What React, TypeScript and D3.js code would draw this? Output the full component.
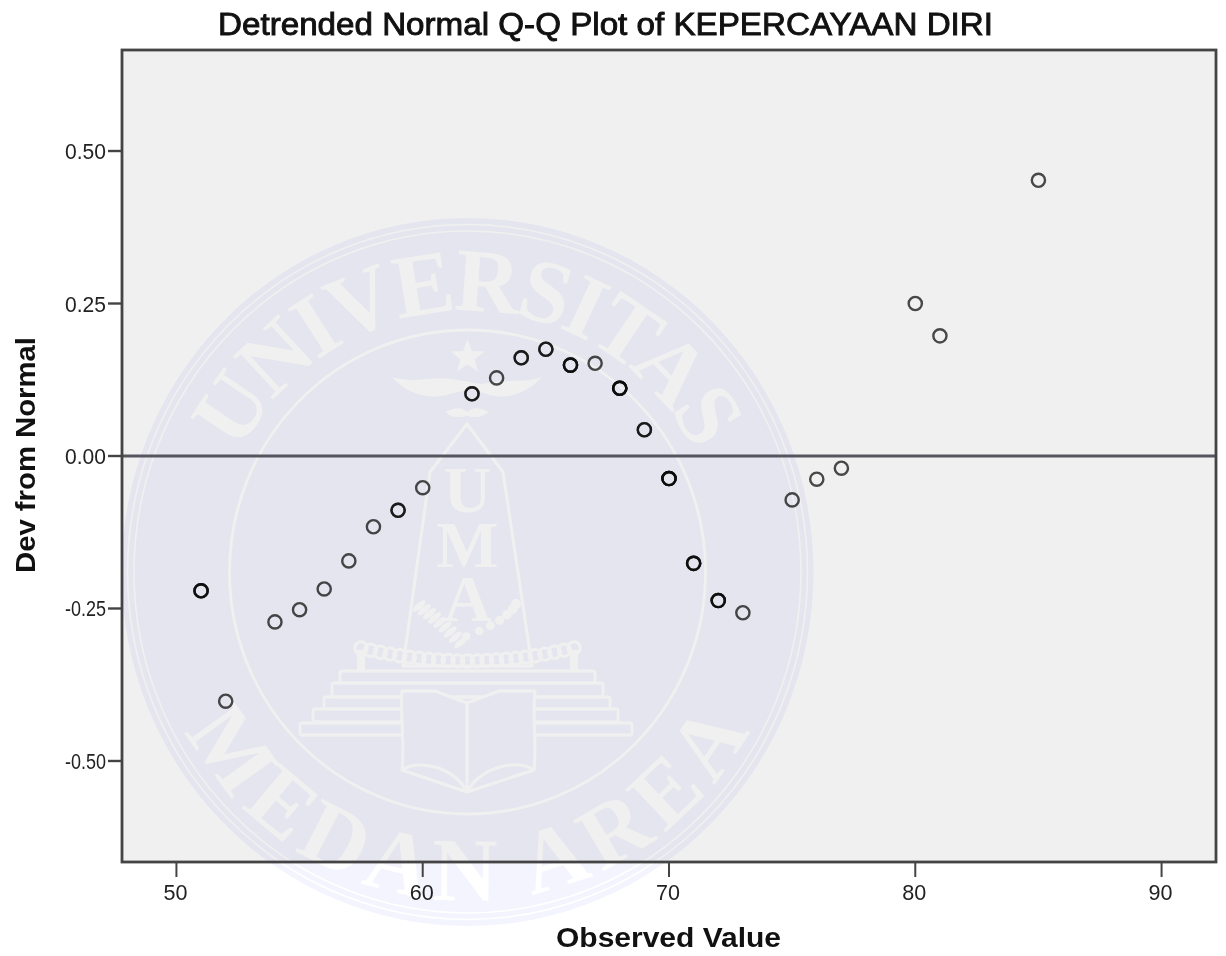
import React from "react";
import * as d3 from "d3";

const observed = [51,52,54,55,56,57,58,59,60,62,63,64,65,66,67,68,69,70,71,72,73,75,76,77,80,81,85];
const deviation = [-0.221,-0.402,-0.272,-0.252,-0.218,-0.172,-0.116,-0.089,-0.052,0.102,0.128,0.161,0.175,0.149,0.152,0.111,0.043,-0.037,-0.176,-0.237,-0.257,-0.072,-0.038,-0.02,0.25,0.197,0.452];
const frequency = [3,1,1,1,1,1,1,2,1,2,1,2,2,3,1,4,2,4,3,3,1,1,1,1,1,1,1];
const xTicks = [50,60,70,80,90];
const yTicks = [0.5,0.25,0,-0.25,-0.5];
const beadIndex = d3.range(23);

const W = 1226, H = 956;
const L = 122, R = 1216, T = 50, B = 862;
const x = d3.scaleLinear().domain([47.79, 92.21]).range([L, R]);
const y = d3.scaleLinear().domain([0.6656, -0.6656]).range([T, B]);

const CX = 467.5, CY = 572;
const arc = (r: number, sweep: number) => `M${CX - r},${CY} A${r},${r * 1.02} 0 0 ${sweep} ${CX + r},${CY}`;
const WM = "#f4f4fe";
const GAP = "#ffffff";

function Watermark() {
  const star = d3.range(10).map(i => {
    const a = -Math.PI / 2 + (i * Math.PI) / 5;
    const r = i % 2 ? 7.5 : 18;
    return [CX + r * Math.cos(a), 357 + r * Math.sin(a)].join(",");
  }).join(" ");
  const beads = beadIndex.map(i => {
    const t = i / (beadIndex.length - 1);
    const bx = 361 + t * 213;
    const by = 661 - 13 * Math.pow(2 * t - 1, 2);
    return <circle key={i} cx={bx} cy={by} r={6.2} fill="none" stroke={GAP} strokeWidth={3} />;
  });
  const leaves = d3.range(9).map(i => {
    const lx = 419 + i * 5.2;
    const ly = 606 + i * 3.6 + i * i * 0.12;
    return <ellipse key={i} cx={lx} cy={ly} rx={8} ry={3} fill={GAP} transform={`rotate(-40 ${lx} ${ly})`} />;
  });
  const seeds = d3.range(7).map(i => (
    <circle key={i} cx={516 - i * 2.6 - i * i * 0.95} cy={604 + i * 5.4} r={5 - i * 0.15} fill={GAP} />
  ));
  return (
    <g style={{ mixBlendMode: "multiply", isolation: "isolate" }}>
      <ellipse cx={CX} cy={CY} rx={346} ry={354} fill={WM} />
      <ellipse cx={CX} cy={CY} rx={340} ry={347.5} fill="none" stroke={GAP} strokeWidth={1.6} />
      <ellipse cx={CX} cy={CY} rx={333.5} ry={341} fill="none" stroke={GAP} strokeWidth={1.6} />
      <ellipse cx={CX} cy={CY} rx={238} ry={242} fill="none" stroke={GAP} strokeWidth={2.8} />
      <defs>
        <path id="wmTop" d={arc(256, 1)} />
        <path id="wmBottom" d={arc(322, 0)} />
      </defs>
      <g fontFamily="'Liberation Serif', serif" fontWeight={700} fontSize={90} fill={GAP}>
        <text><textPath href="#wmTop" startOffset="50%" textAnchor="middle" textLength={565}>UNIVERSITAS</textPath></text>
        <text><textPath href="#wmBottom" startOffset="50%" textAnchor="middle" textLength={690}>MEDAN AREA</textPath></text>
      </g>
      <polygon points={star} fill={GAP} />
      <path d="M392,377 C415,384 432,376 452,379 L482,384 C505,378 522,384 542,377 C528,392 510,400 490,395 L470,389 L446,395 C425,400 405,392 392,377 Z" fill={GAP} />
      <path d="M445,412 C455,408 460,406 467,412 C474,406 480,408 489,412 C480,419 472,417 467,416 C460,417 453,419 445,412 Z" fill={GAP} />
      <path d="M467,424 L503,472 L532,666 L403,666 L430,472 Z" fill="none" stroke={GAP} strokeWidth={3} strokeLinejoin="round" />
      <g fontFamily="'Liberation Serif', serif" fontWeight={700} fontSize={66} fill={GAP} textAnchor="middle">
        <text x={CX} y={512}>U</text>
        <text x={CX} y={567}>M</text>
        <text x={CX} y={621}>A</text>
      </g>
      {leaves}
      {seeds}
      {beads}
      <rect x={357} y={650} width={8} height={21} fill={GAP} />
      <rect x={570} y={650} width={8} height={21} fill={GAP} />
      <g fill="none" stroke={GAP} strokeWidth={2.8}>
        <rect x={340} y={671} width={255} height={12} rx={2} />
        <rect x={332} y={683} width={271} height={14} rx={2} />
        <rect x={324} y={697} width={286} height={12} rx={2} />
        <rect x={313} y={709} width={305} height={13} rx={2} />
        <rect x={300} y={723} width={332} height={12} rx={2} />
      </g>
      <path d="M402,691 L435,691 L467,703 L499,691 L535,691 L533,770 L467,792 L402,770 Z" fill={WM} />
      <path d="M402,691 L435,691 L467,703 L499,691 L535,691 C532,715 537,745 534,770 C515,758 480,768 467,792 C455,768 420,758 402,770 C405,745 400,715 402,691 Z M467,703 L467,792 M402,770 L467,792 L534,770" fill="none" stroke={GAP} strokeWidth={3} strokeLinejoin="round" />
    </g>
  );
}

export default function App() {
  return (
    <svg width={W} height={H} viewBox={`0 0 ${W} ${H}`} style={{ position: "absolute", left: 0, top: 0, background: "#fff", filter: "blur(0.45px)" }}>
      <rect x={L} y={T} width={R - L} height={B - T} fill="#f0f0f0" />
      <Watermark />
      <line x1={L} x2={R} y1={y(0)} y2={y(0)} stroke="#555560" strokeWidth={3} />
      <rect x={L} y={T} width={R - L} height={B - T} fill="none" stroke="#444" strokeWidth={2.8} />
      {yTicks.map(t => (
        <g key={t}>
          <line x1={108} x2={L} y1={y(t)} y2={y(t)} stroke="#444" strokeWidth={2.4} />
          <text x={106} y={y(t) + 8} textAnchor="end" fontFamily="'Liberation Sans', sans-serif" fontSize={22} textLength={41} lengthAdjust="spacingAndGlyphs" fill="#222">{t.toFixed(2)}</text>
        </g>
      ))}
      {xTicks.map(t => (
        <g key={t}>
          <line x1={x(t)} x2={x(t)} y1={B} y2={877} stroke="#444" strokeWidth={2} />
          <text x={x(t) - 1} y={900} textAnchor="middle" fontFamily="'Liberation Sans', sans-serif" fontSize={22} textLength={24} lengthAdjust="spacingAndGlyphs" fill="#222">{t}</text>
        </g>
      ))}
      {observed.flatMap((o, i) => d3.range(frequency[i]).map(k => (
        <circle key={`${o}-${k}`} cx={x(o)} cy={y(deviation[i])} r={6.6} fill="none" stroke="#0c0c0c" strokeOpacity={0.74} strokeWidth={2.4} />
      )))}
      <text x={605.5} y={35} textAnchor="middle" fontFamily="'Liberation Sans', sans-serif" fontSize={31} stroke="#111" strokeWidth={0.9} fill="#111" textLength={775} lengthAdjust="spacingAndGlyphs">Detrended Normal Q-Q Plot of KEPERCAYAAN DIRI</text>
      <text x={668.5} y={947} textAnchor="middle" fontFamily="'Liberation Sans', sans-serif" fontWeight={700} fontSize={28} fill="#111" textLength={225} lengthAdjust="spacingAndGlyphs">Observed Value</text>
      <text transform="translate(35,455) rotate(-90)" textAnchor="middle" fontFamily="'Liberation Sans', sans-serif" fontWeight={700} fontSize={28} fill="#111" textLength={236} lengthAdjust="spacingAndGlyphs">Dev from Normal</text>
    </svg>
  );
}
